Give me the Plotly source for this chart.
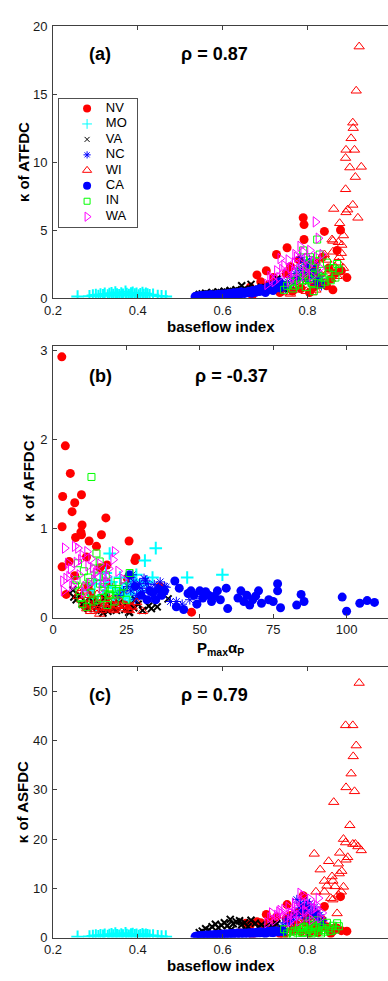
import plotly.graph_objects as go

# ---------------- data ----------------
states = ["NV", "MO", "VA", "NC", "WI", "CA", "IN", "WA"]

# NV
nv_bfi   = [0.790, 0.792, 0.840, 0.792, 0.727, 0.752, 0.703, 0.681, 0.878, 0.893, 0.830, 0.655, 0.665, 0.690,
            0.700, 0.710, 0.720, 0.735, 0.745, 0.750, 0.760, 0.765, 0.775, 0.780, 0.785, 0.795, 0.800, 0.805,
            0.810, 0.815, 0.820, 0.825, 0.835, 0.845, 0.850, 0.855, 0.860, 0.865, 0.870, 0.880, 0.640, 0.670]
nv_atfdc = [5.9, 5.4, 4.9, 4.3, 3.2, 3.7, 2.0, 1.7, 5.0, 1.5, 1.0, 0.5, 0.8, 1.2,
            0.6, 1.0, 1.5, 0.4, 0.9, 1.8, 2.3, 0.5, 1.3, 2.8, 0.7, 1.6, 2.4, 0.4,
            1.9, 0.8, 2.6, 1.2, 3.0, 0.9, 2.2, 1.4, 0.6, 1.8, 3.5, 2.0, 0.3, 0.2]
nv_asfdc = [8.5, 6.0, 6.3, 5.0, 4.2, 6.7, 4.7, 3.2, 8.3, 1.3, 2.0, 2.9, 2.5, 3.0,
            2.2, 3.5, 2.8, 0.8, 0.5, 3.9, 4.5, 1.5, 2.6, 5.2, 1.2, 3.1, 4.0, 0.9,
            2.4, 1.8, 4.8, 1.0, 3.6, 2.2, 1.6, 0.8, 1.3, 2.0, 1.9, 1.4, 1.0, 0.6]
nv_pmax  = [3.0, 4.2, 5.9, 3.3, 9.7, 7.4, 6.5, 18.0, 3.1, 9.9, 9.5, 7.7, 9.7, 16.5,
            12.3, 25.9, 14.8, 11.4, 28.2, 27.9, 5.5, 3.1, 16.0, 18.4, 4.5, 36.4, 47.2, 7.4,
            25.3, 12.0, 14.0, 16.0, 18.0, 20.0, 22.0, 24.0, 11.0, 13.0, 19.0, 21.5, 26.0, 15.0]
nv_affdc = [2.93, 1.93, 1.62, 1.36, 1.38, 1.29, 1.19, 1.12, 1.02, 1.04, 0.96, 0.90, 0.93, 0.93,
            0.86, 0.86, 0.80, 0.68, 0.67, 0.64, 0.63, 0.57, 0.56, 0.59, 0.26, 0.35, 0.06, 0.47,
            0.44, 0.35, 0.20, 0.15, 0.25, 0.12, 0.18, 0.30, 0.12, 0.28, 0.38, 0.22, 0.15, 0.10]

# MO
mo_bfi   = [0.258, 0.286, 0.294, 0.301, 0.307, 0.312, 0.318, 0.322, 0.329, 0.333, 0.338, 0.342, 0.347, 0.351,
            0.356, 0.361, 0.365, 0.371, 0.374, 0.379, 0.384, 0.388, 0.393, 0.397, 0.402, 0.406, 0.411, 0.414,
            0.419, 0.423, 0.428, 0.436, 0.447, 0.456, 0.466]
mo_atfdc = [0.10, 0.12, 0.18, 0.22, 0.15, 0.25, 0.20, 0.30, 0.17, 0.28, 0.35, 0.22, 0.40, 0.26,
            0.19, 0.32, 0.24, 0.45, 0.28, 0.21, 0.33, 0.38, 0.25, 0.30, 0.18, 0.27, 0.36, 0.22,
            0.31, 0.26, 0.20, 0.24, 0.15, 0.12, 0.10]
mo_asfdc = [0.15, 0.20, 0.30, 0.40, 0.25, 0.45, 0.35, 0.55, 0.30, 0.50, 0.65, 0.40, 0.80, 0.45,
            0.35, 0.60, 0.40, 0.85, 0.50, 0.38, 0.62, 0.70, 0.45, 0.55, 0.30, 0.48, 0.66, 0.40,
            0.58, 0.46, 0.35, 0.42, 0.25, 0.20, 0.18]
mo_pmax  = [35.0, 31.3, 33.9, 45.7, 57.7, 19.3, 28.4, 12.0, 13.5, 14.2, 15.0, 16.1, 17.0, 17.8,
            18.5, 19.9, 20.6, 21.3, 22.0, 22.8, 23.5, 24.2, 25.0, 25.8, 26.5, 27.2, 28.0, 29.5,
            30.5, 32.0, 14.8, 18.0, 21.0, 24.6, 27.0]
mo_affdc = [0.78, 0.64, 0.45, 0.45, 0.48, 0.72, 0.48, 0.30, 0.22, 0.38, 0.18, 0.42, 0.25, 0.35,
            0.15, 0.40, 0.28, 0.33, 0.20, 0.45, 0.30, 0.24, 0.38, 0.19, 0.34, 0.27, 0.42, 0.36,
            0.30, 0.40, 0.12, 0.50, 0.16, 0.26, 0.22]

# VA
va_bfi   = [0.545, 0.552, 0.560, 0.568, 0.575, 0.583, 0.590, 0.597, 0.604, 0.611, 0.618, 0.625, 0.632, 0.640,
            0.645, 0.652, 0.660, 0.667, 0.677, 0.684, 0.692, 0.700, 0.708, 0.716, 0.728, 0.736, 0.744, 0.588,
            0.620, 0.655]
va_atfdc = [0.25, 0.30, 0.35, 0.28, 0.40, 0.33, 0.45, 0.38, 0.50, 0.42, 0.55, 0.48, 0.60, 0.52,
            0.90, 0.65, 0.58, 1.00, 0.70, 0.62, 0.80, 0.75, 0.68, 0.95, 1.40, 0.85, 0.70, 0.20,
            0.30, 0.40]
va_asfdc = [1.0, 1.3, 1.8, 1.5, 2.2, 2.7, 2.0, 2.5, 3.0, 2.4, 3.7, 2.8, 3.2, 3.4,
            2.6, 3.0, 2.2, 3.5, 2.9, 2.1, 2.6, 2.0, 1.8, 2.4, 2.8, 1.5, 1.2, 0.8,
            1.6, 1.4]
va_pmax  = [7.1, 39.2, 33.5, 25.8, 32.6, 6.8, 7.9, 26.1, 21.6, 18.7, 10.0, 12.0, 13.5, 15.0,
            16.5, 17.5, 19.5, 20.5, 22.5, 23.5, 24.5, 27.5, 29.0, 30.5, 9.0, 11.0, 14.0, 35.5,
            28.0, 17.0]
va_affdc = [0.23, 0.21, 0.10, 0.06, 0.13, 0.31, 0.20, 0.06, 0.08, 0.07, 0.15, 0.10, 0.18, 0.12,
            0.08, 0.22, 0.14, 0.10, 0.16, 0.12, 0.09, 0.11, 0.15, 0.08, 0.25, 0.18, 0.14, 0.12,
            0.20, 0.05]

# NC
nc_bfi   = [0.742, 0.748, 0.753, 0.758, 0.762, 0.767, 0.771, 0.775, 0.778, 0.782, 0.786, 0.789, 0.792, 0.796,
            0.799, 0.802, 0.805, 0.808, 0.811, 0.814, 0.817, 0.820, 0.823, 0.826, 0.829, 0.833, 0.836, 0.784,
            0.803, 0.819]
nc_atfdc = [0.6, 0.9, 1.2, 0.8, 1.5, 1.1, 1.8, 1.3, 2.2, 1.6, 2.0, 1.4, 2.6, 1.9,
            2.3, 1.2, 2.8, 1.7, 2.1, 1.5, 2.4, 1.0, 1.9, 1.3, 1.6, 0.9, 1.2, 3.0,
            2.5, 2.0]
nc_asfdc = [2.5, 3.0, 3.8, 2.8, 4.2, 3.5, 5.0, 7.7, 4.5, 6.0, 5.5, 4.0, 6.5, 5.2,
            7.3, 3.8, 6.8, 4.8, 5.0, 4.4, 6.2, 3.2, 5.0, 3.6, 4.6, 2.8, 3.4, 7.0,
            6.0, 5.0]
nc_pmax  = [25.5, 26.5, 27.5, 28.5, 29.5, 30.5, 31.5, 32.5, 33.5, 34.5, 35.5, 36.5, 37.5, 38.5,
            26.0, 28.0, 30.0, 32.0, 34.0, 36.0, 38.0, 40.0, 42.0, 46.6, 50.3, 44.0, 24.0, 22.5,
            27.0, 31.0]
nc_affdc = [0.35, 0.30, 0.40, 0.25, 0.38, 0.28, 0.42, 0.33, 0.22, 0.37, 0.30, 0.40, 0.26, 0.34,
            0.45, 0.20, 0.33, 0.38, 0.28, 0.24, 0.35, 0.18, 0.18, 0.20, 0.21, 0.15, 0.30, 0.25,
            0.48, 0.44]

# WI
wi_bfi   = [0.922, 0.915, 0.907, 0.908, 0.903, 0.891, 0.911, 0.890, 0.900, 0.927, 0.913, 0.890, 0.907, 0.891,
            0.895, 0.919, 0.862, 0.876, 0.885, 0.860, 0.873, 0.881, 0.880, 0.873, 0.858, 0.860, 0.846, 0.797,
            0.760, 0.780, 0.800, 0.820, 0.830, 0.840, 0.850, 0.855, 0.865, 0.870, 0.875, 0.885, 0.840, 0.810,
            0.770, 0.750, 0.816]
wi_atfdc = [18.5, 15.25, 12.9, 12.5, 11.75, 10.9, 10.9, 10.3, 9.6, 9.65, 8.9, 8.0, 6.85, 6.3,
            6.5, 5.9, 6.55, 5.5, 4.6, 4.2, 4.1, 3.9, 3.3, 2.6, 4.3, 3.4, 2.8, 0.5,
            0.3, 0.8, 1.2, 0.6, 1.8, 1.1, 2.0, 1.4, 2.3, 1.6, 3.0, 2.2, 3.2, 0.4,
            0.6, 0.4, 2.4]
wi_asfdc = [51.7, 39.0, 43.1, 36.8, 33.3, 30.5, 29.7, 43.1, 22.8, 17.7, 19.0, 19.3, 19.0, 15.8,
            16.3, 18.5, 27.5, 17.2, 20.0, 11.5, 15.0, 13.5, 9.3, 8.7, 12.4, 7.7, 10.5, 2.0,
            1.0, 3.0, 4.0, 9.3, 13.8, 9.3, 15.5, 8.0, 10.4, 4.9, 13.0, 10.3, 11.5, 3.5,
            2.5, 1.5, 17.0]
wi_pmax  = [15.9, 30.5, 9.7, 23.2, 10.5, 11.5, 12.5, 13.5, 14.5, 16.5, 17.5, 18.5, 19.5, 20.5,
            21.5, 22.5, 24.0, 25.0, 26.0, 27.0, 28.5, 11.0, 12.0, 13.0, 14.0, 15.0, 16.0, 17.0,
            18.0, 19.0, 20.0, 21.0, 22.0, 23.5, 25.5, 9.0, 10.0, 8.5, 12.8, 14.8, 16.8, 18.8,
            20.8, 24.5, 26.5]
wi_affdc = [0.04, 0.07, 0.20, 0.13, 0.15, 0.10, 0.25, 0.12, 0.18, 0.08, 0.22, 0.11, 0.16, 0.09,
            0.14, 0.19, 0.10, 0.13, 0.08, 0.12, 0.17, 0.30, 0.14, 0.21, 0.09, 0.26, 0.12, 0.18,
            0.10, 0.15, 0.20, 0.11, 0.13, 0.16, 0.09, 0.28, 0.33, 0.24, 0.07, 0.15, 0.11, 0.19,
            0.08, 0.14, 0.12]

# CA
ca_bfi   = [0.535, 0.539, 0.541, 0.548, 0.550, 0.557, 0.561, 0.563, 0.570, 0.572, 0.579, 0.581, 0.588, 0.590,
            0.597, 0.599, 0.606, 0.608, 0.615, 0.617, 0.624, 0.626, 0.633, 0.635, 0.642, 0.644, 0.651, 0.653,
            0.660, 0.662, 0.669, 0.671, 0.678, 0.680, 0.687, 0.689, 0.696, 0.698, 0.705, 0.707, 0.714, 0.716,
            0.723, 0.725, 0.732, 0.734, 0.741, 0.744, 0.701, 0.719]
ca_atfdc = [0.10, 0.15, 0.12, 0.18, 0.14, 0.20, 0.16, 0.22, 0.18, 0.25, 0.15, 0.24, 0.20, 0.28,
            0.22, 0.30, 0.25, 0.32, 0.20, 0.35, 0.28, 0.38, 0.25, 0.40, 0.30, 0.45, 0.33, 0.42,
            0.38, 0.50, 0.35, 0.55, 0.42, 0.60, 0.48, 0.70, 0.52, 0.65, 0.58, 0.80, 0.62, 0.90,
            0.70, 1.05, 0.75, 1.20, 0.85, 0.95, 0.40, 0.55]
ca_asfdc = [0.20, 0.30, 0.25, 0.40, 0.30, 0.45, 0.35, 0.50, 0.40, 0.55, 0.30, 0.60, 0.45, 0.65,
            0.50, 0.70, 0.55, 0.75, 0.45, 0.80, 0.60, 0.85, 0.55, 0.90, 0.65, 0.95, 0.70, 0.90,
            0.80, 1.00, 0.75, 1.05, 0.85, 1.10, 0.90, 1.20, 0.95, 1.15, 1.00, 1.30, 1.05, 1.35,
            1.10, 1.40, 1.15, 1.30, 1.20, 1.25, 0.80, 1.00]
ca_pmax  = [26.0, 28.0, 30.0, 32.0, 33.0, 34.0, 35.0, 36.0, 37.0, 38.0, 41.5, 43.0, 42.0, 44.5,
            46.0, 47.0, 48.0, 49.0, 50.0, 51.0, 52.0, 53.0, 54.0, 55.0, 56.0, 57.0, 59.0, 59.5,
            63.0, 64.0, 65.0, 66.0, 67.0, 68.0, 69.0, 70.0, 71.0, 73.5, 75.0, 76.5, 76.5, 77.5,
            83.0, 84.5, 85.5, 98.5, 100.0, 104.5, 107.0, 109.5]
ca_affdc = [0.48, 0.35, 0.25, 0.20, 0.30, 0.28, 0.20, 0.32, 0.25, 0.30, 0.41, 0.33, 0.12, 0.09,
            0.27, 0.30, 0.25, 0.15, 0.30, 0.22, 0.29, 0.25, 0.18, 0.24, 0.30, 0.20, 0.33, 0.10,
            0.22, 0.30, 0.18, 0.25, 0.14, 0.20, 0.24, 0.30, 0.16, 0.20, 0.18, 0.38, 0.30, 0.11,
            0.14, 0.26, 0.18, 0.23, 0.07, 0.16, 0.19, 0.17]

# IN
in_bfi   = [0.745, 0.752, 0.760, 0.766, 0.771, 0.776, 0.780, 0.784, 0.788, 0.792, 0.796, 0.800, 0.803, 0.806,
            0.810, 0.813, 0.815, 0.818, 0.821, 0.823, 0.826, 0.829, 0.832, 0.835, 0.838, 0.842, 0.846, 0.850,
            0.855, 0.860, 0.866, 0.870, 0.874, 0.790, 0.808]
in_atfdc = [0.6, 0.9, 1.2, 0.7, 0.9, 1.5, 1.0, 2.0, 1.3, 1.7, 0.8, 2.4, 1.4, 3.0,
            1.1, 2.2, 0.5, 1.8, 2.7, 4.3, 1.6, 3.2, 1.0, 2.0, 1.5, 1.2, 2.6, 1.8,
            1.3, 2.2, 1.5, 2.5, 2.1, 3.5, 2.8]
in_asfdc = [1.7, 0.8, 1.2, 0.6, 1.4, 1.0, 2.0, 1.5, 0.9, 2.2, 1.1, 2.8, 1.6, 3.3,
            0.7, 2.5, 1.0, 1.8, 2.2, 3.5, 1.4, 2.6, 0.8, 2.0, 1.5, 1.2, 3.0, 1.9,
            1.3, 2.4, 1.6, 2.9, 2.3, 2.0, 1.1]
in_pmax  = [13.1, 8.5, 14.8, 26.1, 9.4, 10.0, 11.0, 12.0, 13.0, 14.0, 15.0, 16.0, 17.0, 18.0,
            19.0, 20.0, 21.0, 22.0, 23.0, 24.0, 8.0, 9.0, 10.5, 11.5, 12.5, 13.5, 15.5, 16.5,
            17.5, 19.5, 21.5, 15.9, 18.5, 7.5, 25.0]
in_affdc = [1.58, 0.61, 0.72, 0.50, 0.22, 0.15, 0.35, 0.45, 0.28, 0.55, 0.20, 0.38, 0.30, 0.48,
            0.25, 0.32, 0.18, 0.40, 0.27, 0.35, 0.42, 0.30, 0.52, 0.12, 0.40, 0.18, 0.46, 0.22,
            0.34, 0.26, 0.30, 0.63, 0.14, 0.36, 0.20]

# WA
wa_bfi   = [0.819, 0.826, 0.736, 0.740, 0.716, 0.771, 0.783, 0.705, 0.712, 0.722, 0.728, 0.733, 0.745, 0.750,
            0.755, 0.760, 0.765, 0.770, 0.775, 0.779, 0.786, 0.790, 0.794, 0.798, 0.802, 0.806, 0.810, 0.814,
            0.822, 0.830, 0.835, 0.758, 0.768, 0.780, 0.795]
wa_atfdc = [5.6, 4.4, 2.9, 2.1, 1.4, 3.2, 3.8, 1.0, 1.6, 1.2, 2.0, 1.5, 2.4, 1.8,
            2.8, 2.2, 1.5, 2.6, 3.0, 2.0, 2.5, 3.4, 1.8, 2.9, 2.3, 3.5, 1.6, 2.7,
            3.0, 2.2, 3.2, 1.2, 1.9, 1.4, 2.0]
wa_asfdc = [6.0, 8.0, 5.5, 4.8, 5.0, 6.5, 9.0, 3.0, 4.0, 3.5, 4.5, 5.2, 5.7, 4.0,
            6.2, 5.0, 3.8, 7.0, 6.0, 4.5, 7.5, 8.5, 5.5, 6.8, 4.2, 7.8, 3.6, 5.8,
            6.5, 4.0, 5.0, 3.2, 4.8, 3.4, 5.2]
wa_pmax  = [7.4, 8.5, 21.0, 20.5, 5.1, 5.5, 4.5, 23.9, 4.0, 11.6, 22.2, 3.4, 3.6, 6.0,
            7.0, 8.0, 9.0, 10.0, 11.0, 12.0, 13.0, 14.0, 15.0, 16.0, 17.0, 18.0, 19.0, 6.5,
            9.5, 12.5, 14.5, 16.5, 18.5, 10.5, 13.5]
wa_affdc = [0.80, 0.78, 0.74, 0.65, 0.61, 0.46, 0.44, 0.43, 0.78, 0.74, 0.52, 0.41, 0.30, 0.55,
            0.38, 0.62, 0.48, 0.70, 0.35, 0.58, 0.66, 0.42, 0.52, 0.60, 0.45, 0.40, 0.55, 0.35,
            0.65, 0.38, 0.50, 0.33, 0.46, 0.28, 0.56]

panel_labels = ["(a)", "(b)", "(c)"]
rho_labels = ["ρ = 0.87", "ρ = -0.37", "ρ = 0.79"]
x_titles = ["baseflow index", "P<sub>max</sub>α<sub>P</sub>", "baseflow index"]
y_titles = ["κ of ATFDC", "κ of AFFDC", "κ of ASFDC"]
ticks_a_y = [0, 5, 10, 15, 20]
ticks_b_y = [0, 1, 2, 3]
ticks_c_y = [0, 10, 20, 30, 40, 50]
ticks_bfi = [0.2, 0.4, 0.6, 0.8]
ticks_pmax = [0, 25, 50, 75, 100]

data = {
    "NV": (nv_bfi, nv_atfdc, nv_asfdc, nv_pmax, nv_affdc),
    "MO": (mo_bfi, mo_atfdc, mo_asfdc, mo_pmax, mo_affdc),
    "VA": (va_bfi, va_atfdc, va_asfdc, va_pmax, va_affdc),
    "NC": (nc_bfi, nc_atfdc, nc_asfdc, nc_pmax, nc_affdc),
    "WI": (wi_bfi, wi_atfdc, wi_asfdc, wi_pmax, wi_affdc),
    "CA": (ca_bfi, ca_atfdc, ca_asfdc, ca_pmax, ca_affdc),
    "IN": (in_bfi, in_atfdc, in_asfdc, in_pmax, in_affdc),
    "WA": (wa_bfi, wa_atfdc, wa_asfdc, wa_pmax, wa_affdc),
}
for k, v in data.items():
    if not (len(v[0]) == len(v[1]) == len(v[2]) and len(v[3]) == len(v[4])):
        print("length mismatch", k, [len(a) for a in v])

# ---------------- styles ----------------
style = {
    "NV": dict(symbol="circle", color="#ff0000", size=9, lw=0),
    "MO": dict(symbol="cross-thin", color="#00ffff", size=9, lw=2),
    "VA": dict(symbol="x-thin", color="#000000", size=7, lw=2),
    "NC": dict(symbol="asterisk", color="#0000ff", size=8, lw=1),
    "WI": dict(symbol="triangle-up-open", color="#ff0000", size=9, lw=1),
    "CA": dict(symbol="circle", color="#0000ff", size=9, lw=0),
    "IN": dict(symbol="square-open", color="#00ff00", size=7, lw=1),
    "WA": dict(symbol="triangle-right-open", color="#ff00ff", size=9, lw=1),
}
leg_size = {"NV": 8, "MO": 7, "VA": 5, "NC": 6, "WI": 8, "CA": 8, "IN": 6, "WA": 8}
leg_lw = {"NV": 0, "MO": 1, "VA": 1, "NC": 1, "WI": 1, "CA": 0, "IN": 1, "WA": 1}

FONT = "Liberation Sans, Arial, sans-serif"
fig = go.Figure()


def marker(st, size=None, lw=None):
    return dict(symbol=st["symbol"], color=st["color"], size=size or st["size"],
                line=dict(color=st["color"], width=st["lw"] if lw is None else lw))


for s in states:
    bfi, atf, asf, pm, aff = data[s]
    st = style[s]
    fig.add_trace(go.Scatter(x=bfi, y=atf, mode="markers", marker=marker(st), name=s,
                             showlegend=False, xaxis="x", yaxis="y"))
    fig.add_trace(go.Scatter(x=pm, y=aff, mode="markers", marker=marker(st), name=s,
                             showlegend=False, xaxis="x2", yaxis="y2"))
    fig.add_trace(go.Scatter(x=bfi, y=asf, mode="markers", marker=marker(st), name=s,
                             showlegend=False, xaxis="x3", yaxis="y3"))

# custom legend in its own small axes
for i, s in enumerate(states):
    fig.add_trace(go.Scatter(x=[0.36], y=[i], mode="markers",
                             marker=marker(style[s], leg_size[s], leg_lw[s]),
                             showlegend=False, xaxis="x4", yaxis="y4", hoverinfo="skip"))
fig.add_trace(go.Scatter(x=[0.6] * len(states), y=list(range(len(states))), mode="text",
                         text=states, textposition="middle right",
                         textfont=dict(family=FONT, size=13, color="#000000"),
                         showlegend=False, xaxis="x4", yaxis="y4", hoverinfo="skip"))

W, H = 388, 981
L = 53
PW = W - L


def py(p):
    return 1 - p / H


def px(p):
    return (p - L) / PW


axis_common = dict(showline=True, linecolor="#404040", linewidth=1, ticks="inside", ticklen=4,
                   tickcolor="#404040", showgrid=False, zeroline=False,
                   tickfont=dict(family=FONT, size=13, color="#1a1a1a"))
yaxis_common = dict(axis_common, ticklabelstandoff=2)

dom_a = [py(295.5), py(19.5)]
dom_b = [py(620), py(344)]
dom_c = [py(945), py(670)]

layout = dict(
    width=W, height=H, margin=dict(l=L, r=0, t=0, b=0),
    paper_bgcolor="white", plot_bgcolor="white", showlegend=False,
    xaxis=dict(**axis_common, domain=[0, 1], range=[0.2, 0.99], tickvals=ticks_bfi,
               ticktext=[f"{v:.1f}" for v in ticks_bfi], mirror="ticks", anchor="y"),
    yaxis=dict(**yaxis_common, domain=dom_a, range=[0, 20], tickvals=ticks_a_y, anchor="x"),
    xaxis2=dict(**axis_common, domain=[0, 1], range=[0, 114.1], tickvals=ticks_pmax, mirror="ticks", anchor="y2"),
    yaxis2=dict(**yaxis_common, domain=dom_b, range=[0, 3.055], tickvals=ticks_b_y, anchor="x2"),
    xaxis3=dict(**axis_common, domain=[0, 1], range=[0.2, 0.99], tickvals=ticks_bfi,
                ticktext=[f"{v:.1f}" for v in ticks_bfi], mirror="ticks", anchor="y3"),
    yaxis3=dict(**yaxis_common, domain=dom_c, range=[0, 55], tickvals=ticks_c_y, anchor="x3"),
    xaxis4=dict(domain=[px(59), px(137)], range=[0, 1], showline=True, linecolor="#505050", linewidth=1,
                mirror=True, showticklabels=False, ticks="", showgrid=False, zeroline=False, anchor="y4"),
    yaxis4=dict(domain=[py(223), py(93)], range=[7.64, -0.64], showline=True, linecolor="#505050", linewidth=1,
                mirror=True, showticklabels=False, ticks="", showgrid=False, zeroline=False, anchor="x4"),
)
fig.update_layout(**layout)

ann = []
# panel labels & rho
label_y = [48, 375, 699]
rho_x = [214, 231, 214]
for i in range(3):
    ann.append(dict(text=f"<b>{panel_labels[i]}</b>", x=px(100), y=py(label_y[i]), xref="paper", yref="paper",
                    showarrow=False, xanchor="center", yanchor="middle",
                    font=dict(family=FONT, size=18, color="#000000")))
    ann.append(dict(text=f"<b>{rho_labels[i]}</b>", x=px(rho_x[i]), y=py(label_y[i]), xref="paper", yref="paper",
                    showarrow=False, xanchor="center", yanchor="middle",
                    font=dict(family=FONT, size=18, color="#000000")))
# axis titles
xt_y = [324, 651, 973]
for i in range(3):
    ann.append(dict(text=f"<b>{x_titles[i]}</b>", x=0.5, y=py(xt_y[i]), xref="paper", yref="paper",
                    showarrow=False, xanchor="center", yanchor="middle",
                    font=dict(family=FONT, size=15, color="#000000")))
yt_x = [23, 29, 22]
yt_y = [157.5, 482, 807.5]
for i in range(3):
    ann.append(dict(text=f"<b>{y_titles[i]}</b>", x=px(yt_x[i]), y=py(yt_y[i]), xref="paper", yref="paper",
                    showarrow=False, xanchor="center", yanchor="middle", textangle=-90,
                    font=dict(family=FONT, size=15, color="#000000")))
fig.update_layout(annotations=ann)

fig.write_html("out.html")
